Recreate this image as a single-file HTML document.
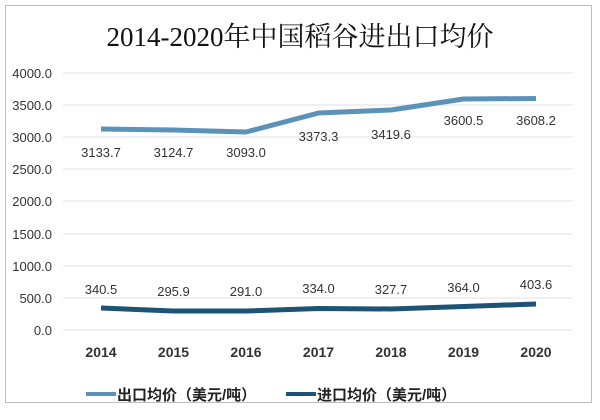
<!DOCTYPE html><html><head><meta charset="utf-8"><style>body{margin:0;background:#fff}</style></head><body>
<svg width="600" height="415" xmlns="http://www.w3.org/2000/svg" font-family="Liberation Sans, Noto Sans CJK SC, sans-serif">
<rect x="5.5" y="5.5" width="586" height="397" fill="#fff" stroke="#bdbdbd"/>
<text x="300" y="46" text-anchor="middle" font-family="Liberation Serif, Noto Serif CJK SC, serif" font-size="27" fill="#111">2014-2020年中国稻谷进出口均价</text>
<g stroke="#e0e0e0" stroke-width="1">
<line x1="63" x2="572" y1="73" y2="73"/><line x1="63" x2="572" y1="105" y2="105"/><line x1="63" x2="572" y1="137" y2="137"/><line x1="63" x2="572" y1="169" y2="169"/><line x1="63" x2="572" y1="201" y2="201"/><line x1="63" x2="572" y1="234" y2="234"/><line x1="63" x2="572" y1="266" y2="266"/><line x1="63" x2="572" y1="298" y2="298"/><line x1="63" x2="572" y1="330" y2="330"/></g>
<g font-size="13" fill="#333" text-anchor="end">
<text x="52" y="78">4000.0</text><text x="52" y="110">3500.0</text><text x="52" y="142">3000.0</text><text x="52" y="174">2500.0</text><text x="52" y="206">2000.0</text><text x="52" y="239">1500.0</text><text x="52" y="271">1000.0</text><text x="52" y="303">500.0</text><text x="52" y="335">0.0</text></g>
<polyline fill="none" stroke="#5b93b8" stroke-width="5" stroke-linejoin="round" points="101,129 173.5,130 246,132 318.5,113 391,110 463.5,99 536,98.5"/>
<polyline fill="none" stroke="#1d5476" stroke-width="5" stroke-linejoin="round" points="101,308 173.5,311 246,311 318.5,308.5 391,309 463.5,306.5 536,304"/>
<g font-size="13" fill="#333" text-anchor="middle">
<text x="101" y="157">3133.7</text><text x="173.5" y="157">3124.7</text><text x="246" y="157">3093.0</text><text x="318.5" y="141">3373.3</text><text x="391" y="139">3419.6</text><text x="463.5" y="125">3600.5</text><text x="536" y="125">3608.2</text>
<text x="101" y="294">340.5</text><text x="173.5" y="296">295.9</text><text x="246" y="296">291.0</text><text x="318.5" y="293">334.0</text><text x="391" y="294">327.7</text><text x="463.5" y="292">364.0</text><text x="536" y="289">403.6</text></g>
<g font-size="14" font-weight="bold" fill="#333" text-anchor="middle">
<text x="101" y="357">2014</text><text x="173.5" y="357">2015</text><text x="246" y="357">2016</text><text x="318.5" y="357">2017</text><text x="391" y="357">2018</text><text x="463.5" y="357">2019</text><text x="536" y="357">2020</text></g>
<line x1="86" x2="116" y1="394" y2="394" stroke="#5b93b8" stroke-width="4"/>
<text x="117" y="400" font-size="15" font-weight="bold" fill="#222">出口均价（美元/吨）</text>
<line x1="286" x2="316" y1="394" y2="394" stroke="#1d5476" stroke-width="4"/>
<text x="317" y="400" font-size="15" font-weight="bold" fill="#222">进口均价（美元/吨）</text>
</svg></body></html>
